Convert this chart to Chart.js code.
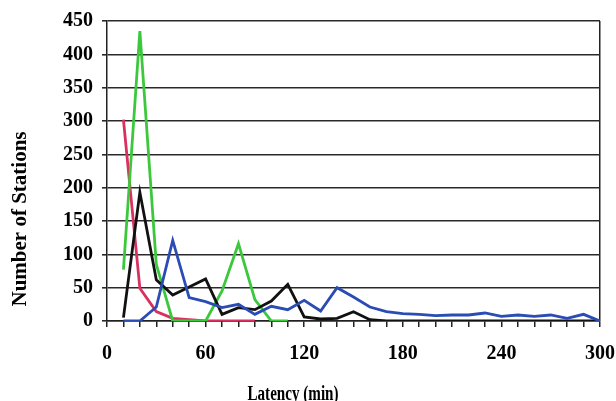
<!DOCTYPE html>
<html>
<head>
<meta charset="utf-8">
<script src="https://cdn.jsdelivr.net/npm/chart.js@4.4.0/dist/chart.umd.min.js"></script>
<style>
  html, body { margin: 0; padding: 0; background: #fff; }
  #wrap { width: 616px; height: 401px; position: relative; }
</style>
</head>
<body>
<div id="wrap"><canvas id="c" width="616" height="401"></canvas></div>
<script>
// Latency bins (minutes)
const latency = [10,20,30,40,50,60,70,80,90,100,110,120,130,140,150,160,170,180,190,200,210,220,230,240,250,260,270,280,290,300];

// Series values (number of stations)
const redValues   = [302, 49, 14, 4, 2, 0, 0, 0, 0];
const greenValues = [77, 435, 85, 0, 0, 0, 45, 116, 32, 0, 0];
const blackValues = [5, 193, 62, 39, 51, 63, 10, 20, 17, 30, 55, 6, 3, 4, 14, 2, 0, 0, 0, 0, 0, 0, 0, 0, 0, 0, 0, 0, 0, 0];
const blueValues  = [0, 0, 21, 121, 35, 29, 20, 25, 10, 22, 17, 31, 15, 50, 36, 21, 14, 11, 10, 8, 9, 9, 12, 7, 9, 7, 9, 4, 10, 0];

// Axis tick settings
const xTickLabels = [0, 60, 120, 180, 240, 300];
const yTicks = [0, 50, 100, 150, 200, 250, 300, 350, 400, 450];

const xTitle = 'Latency (min)';
const yTitle = 'Number of Stations';

function pts(vals) { return vals.map((v, i) => ({ x: latency[i], y: v })); }

const titlePlugin = {
  id: 'axisTitles',
  afterDraw(chart) {
    const ctx = chart.ctx;
    ctx.save();
    ctx.fillStyle = '#000';
    ctx.font = 'bold 20px "Liberation Serif", "Times New Roman", serif';
    ctx.textAlign = 'center';
    ctx.textBaseline = 'alphabetic';
    ctx.fillText(xTitle, 293, 400, 91);
    ctx.translate(25.5, 219);
    ctx.rotate(-Math.PI / 2);
    ctx.font = 'bold 21px "Liberation Serif", "Times New Roman", serif';
    ctx.fillText(yTitle, 0, 0);
    ctx.restore();
  }
};

const tickFont = { family: '"Liberation Serif", "Times New Roman", serif', size: 20, weight: 'bold' };

new Chart(document.getElementById('c'), {
  type: 'line',
  data: {
    datasets: [
      { data: pts(blueValues),  borderColor: '#2a4cb4', order: 0 },
      { data: pts(blackValues), borderColor: '#111111', order: 1 },
      { data: pts(greenValues), borderColor: '#3cc83c', order: 2 },
      { data: pts(redValues),   borderColor: '#d8305f', order: 3 }
    ].map(d => Object.assign({ borderWidth: 2.8, pointRadius: 0, tension: 0, fill: false }, d))
  },
  options: {
    responsive: false,
    animation: false,
    devicePixelRatio: 1,
    plugins: { legend: { display: false }, tooltip: { enabled: false } },
    layout: { padding: { left: 0, right: 16, top: 19, bottom: 0 } },
    scales: {
      x: {
        type: 'linear',
        min: 0, max: 300,
        afterFit(s) { s.height = 80; s.paddingLeft = 0; s.paddingRight = 0; },
        afterBuildTicks(s) { s.ticks = [0].concat(latency).map(v => ({ value: v })); },
        ticks: {
          autoSkip: false,
          maxRotation: 0,
          padding: 15,
          color: '#000',
          font: tickFont,
          callback: v => (xTickLabels.includes(v) ? String(v) : '')
        },
        grid: {
          drawOnChartArea: true,
          color: c => (c.tick && c.tick.value === 300 ? '#222' : 'rgba(0,0,0,0)'),
          tickColor: '#222',
          tickLength: 6,
          lineWidth: 1.5
        },
        border: { display: true, color: '#222', width: 1.5 }
      },
      y: {
        min: 0, max: 450,
        afterFit(s) { s.width = 107; },
        afterBuildTicks(s) { s.ticks = yTicks.map(v => ({ value: v })); },
        ticks: { color: '#000', font: tickFont, padding: 9 },
        grid: { color: '#2a2a2a', lineWidth: 1.6, tickLength: 5, tickColor: '#2a2a2a' },
        border: { display: true, color: '#222', width: 1.5 }
      }
    }
  },
  plugins: [titlePlugin]
});
</script>
</body>
</html>
